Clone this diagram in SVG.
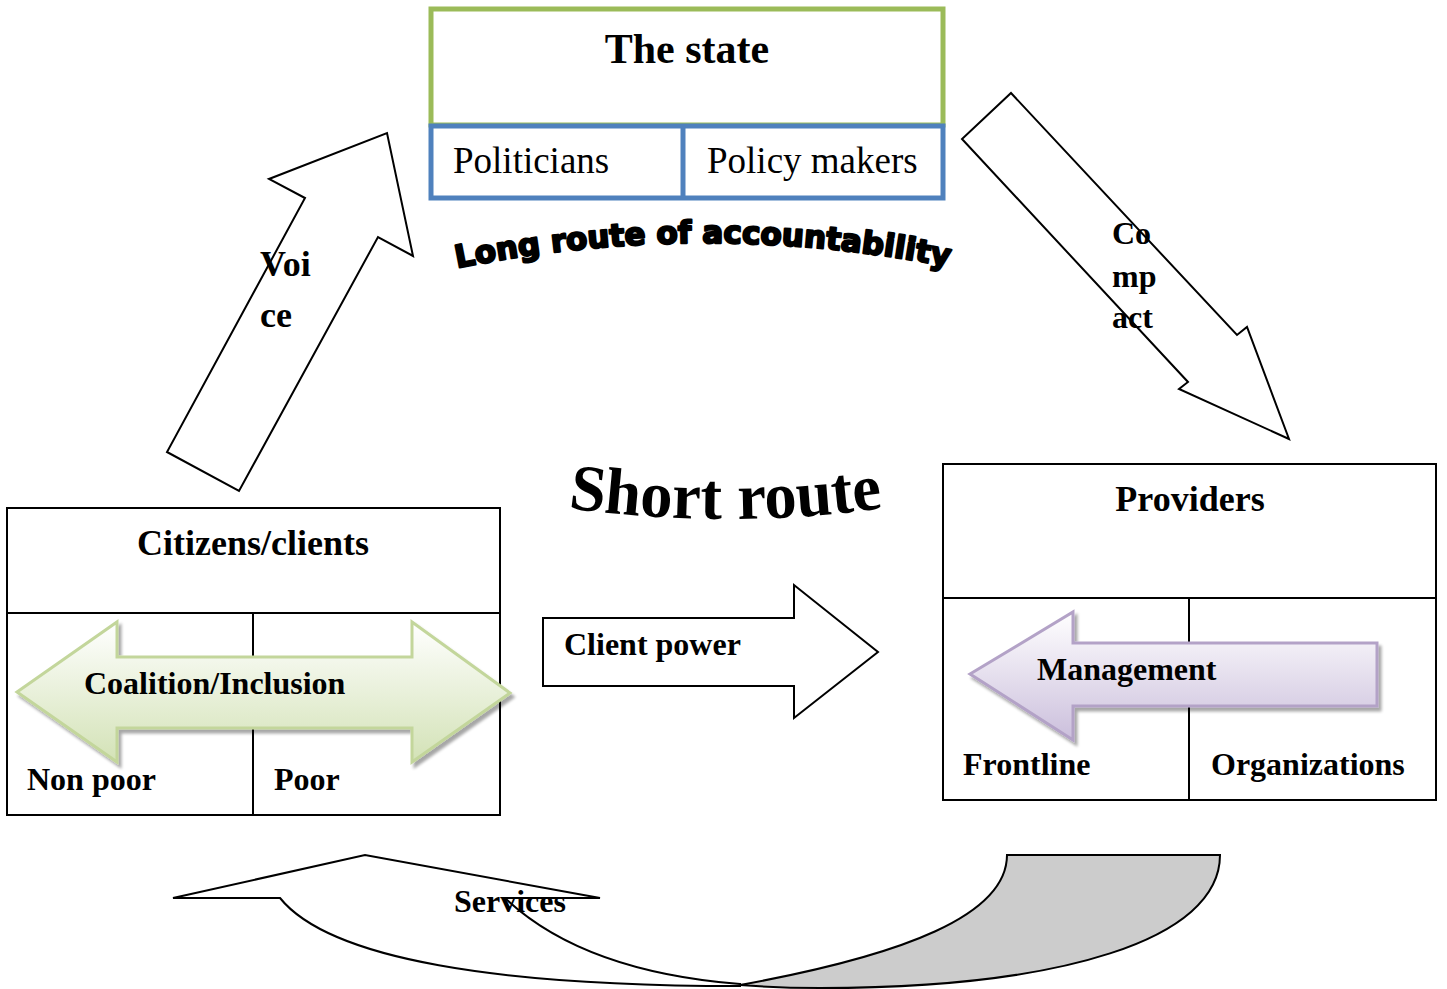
<svg xmlns="http://www.w3.org/2000/svg" width="1447" height="989" viewBox="0 0 1447 989">
<defs>
<style>
.box{fill:#fff;stroke:#000;stroke-width:2}
.ln{stroke:#000;stroke-width:2;fill:none}
.arr{fill:#fff;stroke:#000;stroke-width:2;stroke-linejoin:miter}
.b{font-family:"Liberation Serif","Times New Roman",serif;font-weight:bold;font-size:32px;fill:#000}
.r{font-family:"Liberation Serif","Times New Roman",serif;font-size:37px;fill:#000}
.t42{font-size:42px}
.t36{font-size:36px}
</style>
<linearGradient id="gg" x1="0" y1="0" x2="0" y2="1">
<stop offset="0" stop-color="#ffffff"/>
<stop offset="1" stop-color="#d3e2b6"/>
</linearGradient>
<linearGradient id="pg" x1="0" y1="0" x2="0" y2="1">
<stop offset="0" stop-color="#ffffff"/>
<stop offset="1" stop-color="#cbbfdc"/>
</linearGradient>
<filter id="sh" x="-10%" y="-10%" width="130%" height="140%">
<feGaussianBlur in="SourceAlpha" stdDeviation="1.5"/>
<feOffset dx="3" dy="4" result="o"/>
<feComponentTransfer><feFuncA type="linear" slope="0.35"/></feComponentTransfer>
<feMerge><feMergeNode/><feMergeNode in="SourceGraphic"/></feMerge>
</filter>
<path id="longPath" d="M457,268 Q705,218 955,268"/>
<path id="shortPath" d="M568,508 Q726,530 884,508"/>
</defs>
<rect width="1447" height="989" fill="#fff"/>

<g id="state">
<rect x="431" y="9" width="512" height="116" fill="#fff" stroke="#9bbb59" stroke-width="5"/>
<rect x="431" y="126" width="512" height="72" fill="#fff" stroke="#4f81bd" stroke-width="5"/>
<line x1="683" y1="126" x2="683" y2="198" stroke="#4f81bd" stroke-width="5"/>
<text class="b t42" x="687" y="63" text-anchor="middle">The state</text>
<text class="r" x="453" y="173">Politicians</text>
<text class="r" x="707" y="173">Policy makers</text>
</g>

<g id="long-route-label">
<text font-family="'DejaVu Sans','Liberation Sans',sans-serif" font-weight="bold" font-size="31" fill="#000" stroke="#000" stroke-width="2.2" stroke-linejoin="round"><textPath href="#longPath" textLength="495" lengthAdjust="spacingAndGlyphs">Long route of accountability</textPath></text>
</g>

<g id="short-route-label">
<text font-family="'Liberation Serif','Times New Roman',serif" font-weight="bold" font-size="66" fill="#000"><textPath href="#shortPath" textLength="316" lengthAdjust="spacingAndGlyphs">Short route</textPath></text>
</g>

<g id="citizens">
<rect class="box" x="7" y="508" width="493" height="307"/>
<line class="ln" x1="7" y1="613" x2="500" y2="613"/>
<line class="ln" x1="253" y1="613" x2="253" y2="815"/>
<text class="b t36" x="253" y="555" text-anchor="middle">Citizens/clients</text>
<polygon points="17,692 117,622 117,657 412,657 412,622 510,693 412,762 412,728 117,728 117,762" fill="url(#gg)" stroke="#c3d69b" stroke-width="3" filter="url(#sh)"/>
<text class="b" x="84" y="694">Coalition/Inclusion</text>
<text class="b" x="27" y="790">Non poor</text>
<text class="b" x="274" y="790">Poor</text>
</g>

<g id="providers">
<rect class="box" x="943" y="464" width="493" height="336"/>
<line class="ln" x1="943" y1="598" x2="1436" y2="598"/>
<line class="ln" x1="1189" y1="598" x2="1189" y2="800"/>
<text class="b t36" x="1190" y="511" text-anchor="middle">Providers</text>
<polygon points="970,674 1073,612 1073,643 1377,643 1377,706 1073,706 1073,740" fill="url(#pg)" stroke="#b3a2c7" stroke-width="3" filter="url(#sh)"/>
<text class="b" x="1037" y="680">Management</text>
<text class="b" x="963" y="775">Frontline</text>
<text class="b" x="1211" y="775">Organizations</text>
</g>

<g id="connectors">
<g id="voice">
<polygon class="arr" points="167,452 239,491 378,237 413,256 387,133 269,179 305,198"/>
<text class="b t36" x="260" y="276">Voi</text>
<text class="b t36" x="260" y="327">ce</text>
</g>
<g id="compact">
<polygon class="arr" points="1011,93 1237,335 1247,327 1289,439 1179,389 1188,382 962,139"/>
<text class="b" x="1112" y="244">Co</text>
<text class="b" x="1112" y="287">mp</text>
<text class="b" x="1112" y="328">act</text>
</g>
<g id="client-power">
<polygon class="arr" points="543,618 794,618 794,585 878,652 794,718 794,686 543,686"/>
<text class="b" x="564" y="655">Client power</text>
</g>
<g id="services">
<path d="M1007,855 L1220,855 C1220,940 1060,988 820,988 C790,988 765,987 740,985 C905,955 1007,915 1007,855 Z" fill="#cccccc" stroke="#000" stroke-width="2"/>
<path d="M173,898 L365,855 L600,898 L505,898 C560,950 640,976 740,984 L740,986 C500,986 330,960 280,898 Z" fill="#fff" stroke="#000" stroke-width="2" stroke-linejoin="miter"/>
<text class="b" x="454" y="912">Services</text>
</g>
</g>
</svg>
